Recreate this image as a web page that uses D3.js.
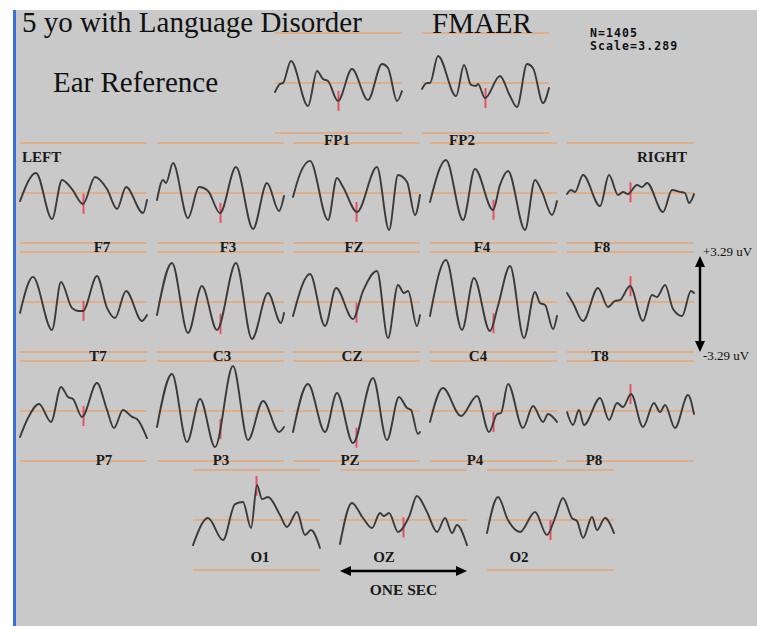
<!DOCTYPE html>
<html><head><meta charset="utf-8">
<script src="https://cdn.jsdelivr.net/npm/d3@7"></script>
<style>body{margin:0;background:#fff;}svg{display:block;}</style>
</head><body>
<script>
// ---- data ----
const channels = ["FP1","FP2","F7","F3","FZ","F4","F8","T7","C3","CZ","C4","T8","P7","P3","PZ","P4","P8","O1","OZ","O2"];
const titleText = "5 yo with Language Disorder";
const methodText = "FMAER";
const refText = "Ear Reference";
const nAvg = 1405;
const scaleUV = 3.289;
const epochMs = 1000;
const markerMs = 500;
// waveforms: [time ms, amplitude uV]
const fp1 = [[0,-0.59],[39,-0.07],[63,0],[126,1.45],[260,-1.51],[331,0.79],[378,0.26],[417,0.13],[496,-1.18],[606,0.92],[732,-1.12],[843,1.25],[890,0.99],[961,-1.18],[1000,-0.53]];
const fp2 = [[0,-0.39],[39,0],[63,0],[126,1.78],[268,-0.86],[331,1.18],[386,-0.13],[425,-0.20],[441,-0.07],[496,-0.99],[614,0.46],[693,-0.86],[748,-1.58],[827,1.25],[874,0.99],[953,-1.32],[1000,-0.33]];
const f7 = [[0,-0.53],[126,1.32],[252,-1.71],[331,0.86],[409,0.26],[496,-0.72],[591,1.05],[685,0.26],[764,-1.05],[835,0.39],[969,-1.32],[1000,-0.46]];
const f3 = [[0,-0.46],[47,0.86],[71,0.66],[126,1.97],[244,-1.65],[331,0.39],[402,0.13],[496,-1.32],[622,1.71],[756,-2.37],[866,0.66],[961,-1.18],[1000,-0.20]];
const fz = [[0,-0.26],[55,1.25],[134,2.11],[276,-1.78],[346,0.99],[394,0.39],[504,-1.25],[661,1.71],[756,-2.43],[827,1.18],[898,0.72],[961,-1.45],[1000,-0.13]];
const f4 = [[0,-0.59],[126,2.17],[260,-1.78],[354,1.58],[496,-1.12],[551,0.53],[614,1.45],[748,-2.43],[827,0.86],[882,0.07],[961,-1.45],[1000,-0.53]];
const f8 = [[0,-0.07],[31,0.20],[63,0.07],[126,1.18],[260,-0.86],[331,1.18],[402,-0.13],[441,0.07],[480,-0.07],[551,0.53],[591,0.39],[630,0.66],[756,-1.25],[827,0.20],[890,0.07],[929,0],[961,-0.66],[1000,-0.07]];
const t7 = [[0,-0.72],[102,1.65],[252,-1.84],[323,1.32],[409,-0.39],[457,-0.59],[496,-0.59],[606,1.71],[685,-0.39],[748,-1.05],[835,0.72],[961,-1.25],[1000,-0.86]];
const c3 = [[0,-0.86],[118,2.57],[244,-2.04],[354,1.05],[472,-1.84],[622,2.57],[748,-2.43],[874,0.59],[976,-1.38],[1000,-0.72]];
const cz = [[0,-0.92],[134,1.84],[252,-1.58],[339,0.92],[472,-1.12],[551,0.72],[661,2.04],[748,-2.37],[827,1.12],[874,0.59],[906,0.72],[976,-1.58],[1000,-0.86]];
const c4 = [[0,-0.92],[126,2.76],[252,-1.84],[346,1.58],[472,-1.91],[535,-0.26],[630,2.37],[740,-2.37],[827,0.66],[866,-0.07],[906,-0.20],[969,-1.78],[1000,-0.92]];
const t8 = [[0,0.59],[47,-0.07],[126,-1.25],[244,0.92],[323,-0.33],[378,0.07],[417,0.13],[496,1.05],[598,-1.25],[669,0.46],[709,0.33],[772,1.12],[835,-0.46],[906,-0.92],[976,0.72],[1000,0.59]];
const p7 = [[0,-1.71],[63,-0.46],[150,0.46],[244,-0.72],[323,1.58],[378,0.92],[417,0.79],[488,-0.39],[606,1.84],[685,0.07],[740,-1.12],[811,0.07],[882,-0.39],[921,-0.53],[1000,-1.78]];
const p3 = [[0,-1.05],[118,2.43],[236,-2.04],[339,0.79],[457,-2.37],[598,2.96],[717,-1.91],[835,0.66],[961,-1.38],[1000,-1.05]];
const pz = [[0,-1.38],[118,1.78],[252,-1.38],[346,1.18],[472,-2.11],[630,2.17],[740,-1.91],[835,0.92],[898,0.20],[929,0.07],[984,-1.51],[1000,-1.38]];
const p4 = [[0,-0.72],[102,1.51],[244,-0.33],[370,0.99],[465,-1.38],[528,-0.20],[559,-0.13],[614,1.78],[732,-1.12],[811,0.33],[890,-0.72],[929,-0.20],[1000,-0.72]];
const p8 = [[0,-0.07],[47,-0.92],[94,0.07],[134,-0.92],[260,0.86],[331,-0.59],[394,0.53],[441,0.26],[504,1.12],[598,-1.05],[685,0.53],[732,-0.07],[772,0.39],[850,-1.12],[953,1.05],[1000,-0.20]];
const o1 = [[0,-1.65],[118,0.13],[236,-1.32],[331,1.05],[394,1.18],[457,-0.53],[504,2.30],[543,1.38],[591,1.51],[685,0.33],[740,-0.46],[819,0.53],[882,-0.99],[929,-0.66],[1000,-1.84]];
const oz = [[0,-1.58],[94,1.12],[181,0.13],[252,-0.53],[315,0.46],[346,0.26],[386,0.46],[457,-0.79],[543,0.20],[606,1.58],[685,0.53],[764,-0.79],[827,0.13],[882,-0.86],[921,-0.33],[1000,-1.65]];
const o2 = [[0,-0.86],[87,1.51],[165,0],[260,-0.79],[378,0.53],[472,-0.99],[535,0.13],[598,1.45],[669,0.13],[709,-0.07],[756,-1.18],[827,0.20],[866,-0.66],[929,0.13],[1000,-0.86]];
const waves = {FP1:fp1,FP2:fp2,F7:f7,F3:f3,FZ:fz,F4:f4,F8:f8,T7:t7,C3:c3,CZ:cz,C4:c4,T8:t8,P7:p7,P3:p3,PZ:pz,P4:p4,P8:p8,O1:o1,OZ:oz,O2:o2};

// ---- layout (positions only) ----
const layout = {
  FP1:{x:275,m:83,lx:337,ly:145}, FP2:{x:422,m:83,lx:462,ly:145},
  F7:{x:20,m:193,lx:102,ly:252}, F3:{x:157,m:193,lx:228,ly:252}, FZ:{x:293,m:193,lx:354,ly:252}, F4:{x:430,m:193,lx:482,ly:252}, F8:{x:567,m:193,lx:602,ly:252},
  T7:{x:20,m:302,lx:98,ly:361}, C3:{x:157,m:302,lx:222,ly:361}, CZ:{x:293,m:302,lx:352,ly:361}, C4:{x:430,m:302,lx:478,ly:361}, T8:{x:567,m:302,lx:600,ly:361},
  P7:{x:20,m:411,lx:104,ly:465}, P3:{x:157,m:411,lx:221,ly:465}, PZ:{x:293,m:411,lx:350,ly:465}, P4:{x:430,m:411,lx:475,ly:465}, P8:{x:567,m:411,lx:594,ly:465},
  O1:{x:193,m:520,lx:260,ly:562}, OZ:{x:340,m:520,lx:384,ly:562,noBottom:true}, O2:{x:487,m:520,lx:519,ly:562}
};
const PW = 127, PH = 50;
const W = 757, H = 626;
const ORANGE = "#dfae86", WAVE = "#3a3a3a", RED = "#e8505e", GRAY = "#c9c9c9";
const serif = "'Liberation Serif','Times New Roman',serif";

const svg = d3.select("body").append("svg").attr("width",W).attr("height",H);
svg.append("rect").attr("width",W).attr("height",H).attr("fill","#fff");
svg.append("rect").attr("x",15).attr("y",10).attr("width",W-15).attr("height",H-10).attr("fill",GRAY);
svg.append("rect").attr("x",13).attr("y",10).attr("width",3).attr("height",H-10).attr("fill","#3d6fd8");

const gLines = svg.append("g"), gTicks = svg.append("g"), gWaves = svg.append("g"), gText = svg.append("g");

channels.forEach(ch => {
  const L = layout[ch];
  const x = d3.scaleLinear().domain([0,epochMs]).range([L.x, L.x+PW]);
  const y = d3.scaleLinear().domain([-scaleUV, scaleUV]).range([L.m+PH, L.m-PH]);
  const levels = L.noBottom ? [scaleUV, 0] : [scaleUV, 0, -scaleUV];
  levels.forEach(v => {
    gLines.append("line").attr("x1",x(0)).attr("x2",x(epochMs)).attr("y1",y(v)).attr("y2",y(v))
      .attr("stroke",ORANGE).attr("stroke-width",1.8);
  });
  const line = d3.line().x(d=>x(d[0])).y(d=>y(d[1])).curve(d3.curveMonotoneX);
  const path = gWaves.append("path").attr("d", line(waves[ch])).attr("fill","none")
    .attr("stroke",WAVE).attr("stroke-width",1.9).attr("stroke-linejoin","round").attr("stroke-linecap","round");
  // marker at stimulus time, centred on the curve
  const node = path.node(), tx = x(markerMs);
  let lo = 0, hi = node.getTotalLength();
  for (let k=0;k<40;k++){ const md=(lo+hi)/2; if (node.getPointAtLength(md).x < tx) lo=md; else hi=md; }
  const cy = node.getPointAtLength(lo).y;
  gTicks.append("line").attr("x1",tx).attr("x2",tx).attr("y1",cy-10).attr("y2",cy+10)
    .attr("stroke",RED).attr("stroke-width",2);
  gText.append("text").attr("x",L.lx).attr("y",L.ly).attr("text-anchor","middle")
    .attr("font-family",serif).attr("font-size",15).attr("font-weight","bold").attr("fill","#1a1a1a").text(ch);
});

// header texts
gText.append("text").attr("x",22).attr("y",32).attr("font-family",serif).attr("font-size",29).attr("fill","#111").text(titleText);
gText.append("text").attr("x",432).attr("y",33).attr("font-family",serif).attr("font-size",29).attr("fill","#111").text(methodText);
gText.append("text").attr("x",53).attr("y",92).attr("font-family",serif).attr("font-size",29).attr("fill","#111").text(refText);
const mono = "'DejaVu Sans Mono','Liberation Mono',monospace";
gText.append("text").attr("x",590).attr("y",37).attr("font-family",mono).attr("font-size",11.5).attr("font-weight","bold")
  .attr("letter-spacing",1.1).attr("fill","#111").text("N=" + nAvg);
gText.append("text").attr("x",590).attr("y",50).attr("font-family",mono).attr("font-size",11.5).attr("font-weight","bold")
  .attr("letter-spacing",1.1).attr("fill","#111").text("Scale=" + scaleUV.toFixed(3));
gText.append("text").attr("x",22).attr("y",162).attr("font-family",serif).attr("font-size",15).attr("font-weight","bold").attr("fill","#1a1a1a").text("LEFT");
gText.append("text").attr("x",637).attr("y",162).attr("font-family",serif).attr("font-size",15).attr("font-weight","bold").attr("fill","#1a1a1a").text("RIGHT");

// amplitude scale arrow
const ampY = d3.scaleLinear().domain([-scaleUV, scaleUV]).range([352, 256]);
const ax = 700;
gText.append("line").attr("x1",ax).attr("x2",ax).attr("y1",ampY(scaleUV)+8).attr("y2",ampY(-scaleUV)-8).attr("stroke","#000").attr("stroke-width",2.4);
gText.append("path").attr("d",`M${ax},${ampY(scaleUV)} l-5,11 l10,0 z`).attr("fill","#000");
gText.append("path").attr("d",`M${ax},${ampY(-scaleUV)} l-5,-11 l10,0 z`).attr("fill","#000");
gText.append("text").attr("x",703).attr("y",256).attr("font-family",serif).attr("font-size",13).attr("fill","#111").text("+" + scaleUV.toFixed(2) + " uV");
gText.append("text").attr("x",703).attr("y",360).attr("font-family",serif).attr("font-size",13).attr("fill","#111").text("-" + scaleUV.toFixed(2) + " uV");

// time scale arrow (one second)
const tL = layout.OZ;
const tx = d3.scaleLinear().domain([0,epochMs]).range([tL.x, tL.x+PW]);
const ty = 571;
gText.append("line").attr("x1",tx(0)+8).attr("x2",tx(epochMs)-8).attr("y1",ty).attr("y2",ty).attr("stroke","#000").attr("stroke-width",2.4);
gText.append("path").attr("d",`M${tx(0)},${ty} l11,-5 l0,10 z`).attr("fill","#000");
gText.append("path").attr("d",`M${tx(epochMs)},${ty} l-11,-5 l0,10 z`).attr("fill","#000");
gText.append("text").attr("x",(tx(0)+tx(epochMs))/2).attr("y",595).attr("text-anchor","middle").attr("font-family",serif)
  .attr("font-size",15.5).attr("font-weight","bold").attr("fill","#1a1a1a").text("ONE SEC");
</script>
</body></html>
